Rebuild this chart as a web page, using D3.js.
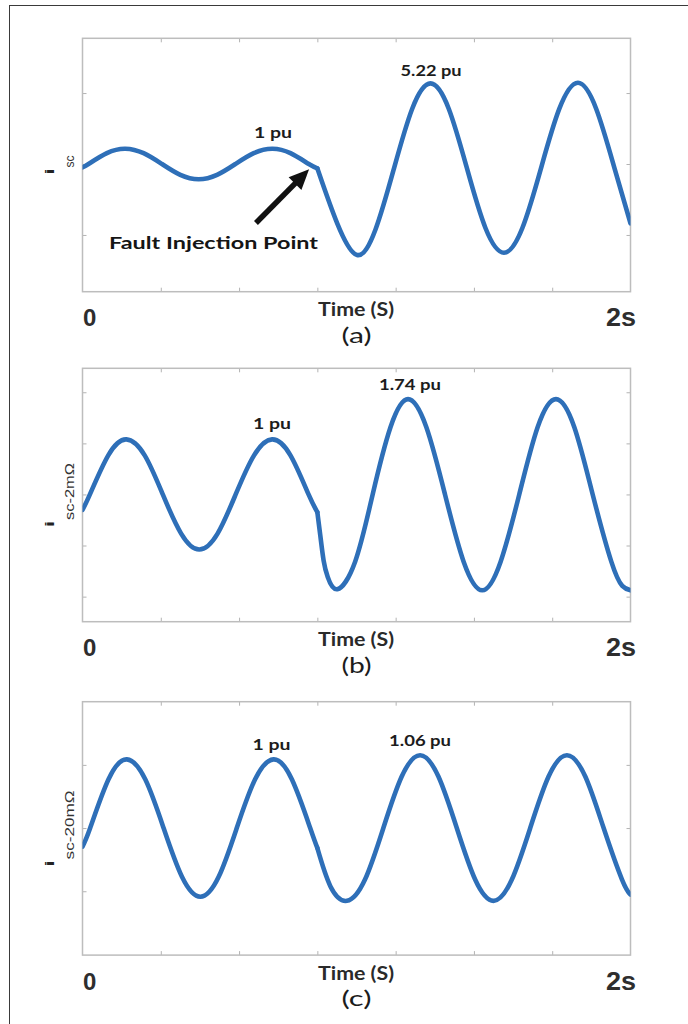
<!DOCTYPE html>
<html><head><meta charset="utf-8">
<script src="https://cdn.jsdelivr.net/npm/d3@7"></script>
<style>body{margin:0;background:#fff}svg{display:block}</style>
</head><body>
<svg id="chart" width="688" height="1024"></svg>
<script>
// ---------- data ----------
const timeDomain = [0, 2];
const xTicks = [0.2857, 0.5714, 0.8571, 1.1429, 1.4286, 1.7143];
const xEndLabels = ["0", "2s"];
const xAxisTitle = "Time (S)";
const panelNames = ["(a)", "(b)", "(c)"];
const yMain = "i";
const ySubs = ["sc", "sc-2mΩ", "sc-20mΩ"];

const yDomainA = [-8.35, 8.22], yTicksA = [-4.64, 0, 4.64];
const yDomainB = [-2.31, 2.29], yTicksB = [-1.855, -0.927, 0, 0.927, 1.855];
const yDomainC = [-1.85, 1.84], yTicksC = [-0.92, 0, 0.92];

// panel (a): i_sc (pu), before and after fault
const aPre = [[0,-0.22],[0.022,0],[0.089,0.71],[0.156,1.0],[0.223,0.71],[0.290,0],[0.357,-0.71],[0.424,-1.0],[0.491,-0.71],[0.558,0],[0.625,0.71],[0.692,1.0],[0.759,0.71],[0.826,0],[0.857,-0.28]];
const aPost = [[0.857,-0.28],[0.93,-3.9],[1.002,-5.95],[1.069,-4.3],[1.136,-0.34],[1.203,3.6],[1.270,5.27],[1.337,3.6],[1.404,-0.34],[1.471,-4.2],[1.538,-5.8],[1.605,-4.2],[1.673,-0.3],[1.740,3.6],[1.808,5.31],[1.875,3.6],[1.942,-0.3],[2.0,-3.88]];
// panel (b): i_sc-2mΩ
const bPre = [[0,-0.28],[0.027,0],[0.094,0.71],[0.160,1.0],[0.227,0.71],[0.293,0],[0.360,-0.71],[0.426,-1.0],[0.493,-0.71],[0.559,0],[0.626,0.71],[0.692,1.0],[0.759,0.71],[0.825,0],[0.857,-0.32]];
const bPost = [[0.857,-0.32],[0.868,-0.75],[0.880,-1.2],[0.895,-1.5],[0.930,-1.72],[0.995,-1.22],[1.059,0],[1.124,1.22],[1.188,1.73],[1.255,1.22],[1.323,0],[1.391,-1.22],[1.459,-1.74],[1.526,-1.22],[1.594,0],[1.661,1.22],[1.728,1.73],[1.795,1.22],[1.862,0],[1.930,-1.22],[1.97,-1.66],[2.0,-1.74]];
// panel (c): i_sc-20mΩ
const cPre = [[0,-0.27],[0.028,0],[0.095,0.71],[0.162,1.0],[0.229,0.71],[0.296,0],[0.363,-0.71],[0.430,-1.0],[0.497,-0.71],[0.563,0],[0.630,0.71],[0.697,1.0],[0.764,0.71],[0.831,0],[0.857,-0.29]];
const cPost = [[0.857,-0.29],[0.905,-0.85],[0.965,-1.06],[1.031,-0.75],[1.098,0],[1.165,0.75],[1.232,1.06],[1.299,0.75],[1.366,0],[1.433,-0.75],[1.500,-1.06],[1.567,-0.75],[1.634,0],[1.701,0.75],[1.768,1.06],[1.835,0.75],[1.902,0],[1.969,-0.75],[2.0,-0.97]];

// peak annotations: [text, t, v]
const aNotes = [["1 pu", 0.695, 1.70], ["5.22 pu", 1.272, 5.75]];
const bNotes = [["1 pu", 0.692, 1.19], ["1.74 pu", 1.195, 1.90]];
const cNotes = [["1 pu", 0.69, 1.135], ["1.06 pu", 1.232, 1.19]];
const faultText = "Fault Injection Point";
const faultTextPos = [0.097, -5.56];
const arrowTail = [0.633, -3.86];
const arrowTip = [0.827, -0.35];

// ---------- layout ----------
const L = 82.5, R = 630.5, H = 253.4;
const tops = [38.3, 368.3, 701.7];
const subLens = [12, 57, 69];
const noteWidths = {"1 pu": 38, "5.22 pu": 61, "1.74 pu": 62, "1.06 pu": 62};
const blue = "#2e6fb8";
const FONT = "Lato, 'Open Sans', sans-serif";
const HFONT = "'Liberation Sans', Arial, sans-serif";

const svg = d3.select("#chart");
svg.append("rect").attr("width", 688).attr("height", 1024).attr("fill", "#fff");
svg.append("rect").attr("x", 9.5).attr("y", 5.5).attr("width", 700).attr("height", 1040)
  .attr("fill", "none").attr("stroke", "#3a3a3a").attr("stroke-width", 1);

const panels = [
  {pre: aPre, post: aPost, yDomain: yDomainA, yTicks: yTicksA, notes: aNotes},
  {pre: bPre, post: bPost, yDomain: yDomainB, yTicks: yTicksB, notes: bNotes},
  {pre: cPre, post: cPost, yDomain: yDomainC, yTicks: yTicksC, notes: cNotes}
];

const tickStyle = sel => {
  sel.select(".domain").remove();
  sel.selectAll("text").remove();
  sel.selectAll("line").attr("stroke", "#b3b3b3").attr("stroke-width", 1);
};

panels.forEach((p, i) => {
  const top = tops[i], bottom = top + H;
  const x = d3.scaleLinear().domain(timeDomain).range([L, R]);
  const y = d3.scaleLinear().domain(p.yDomain).range([bottom, top]);
  const g = svg.append("g");

  g.append("g").attr("transform", `translate(0,${bottom})`)
    .call(d3.axisBottom(x).tickValues(xTicks).tickSize(-4).tickFormat("")).call(tickStyle);
  g.append("g").attr("transform", `translate(0,${top})`)
    .call(d3.axisTop(x).tickValues(xTicks).tickSize(-4).tickFormat("")).call(tickStyle);
  g.append("g").attr("transform", `translate(${L},0)`)
    .call(d3.axisLeft(y).tickValues(p.yTicks).tickSize(-4).tickFormat("")).call(tickStyle);
  g.append("g").attr("transform", `translate(${R},0)`)
    .call(d3.axisRight(y).tickValues(p.yTicks).tickSize(-4).tickFormat("")).call(tickStyle);

  g.append("rect").attr("x", L).attr("y", top).attr("width", R - L).attr("height", H)
    .attr("fill", "none").attr("stroke", "#bdbdbd").attr("stroke-width", 1.5);

  const clipId = "clip" + i;
  svg.append("clipPath").attr("id", clipId).append("rect")
    .attr("x", L).attr("y", top - 10).attr("width", R - L).attr("height", H + 20);

  const line = d3.line().x(d => x(d[0])).y(d => y(d[1])).curve(d3.curveNatural);
  [p.pre, p.post].forEach(seg => {
    g.append("path").attr("d", line(seg)).attr("clip-path", `url(#${clipId})`)
      .attr("fill", "none").attr("stroke", blue).attr("stroke-width", 4.6)
      .attr("stroke-linecap", "round").attr("stroke-linejoin", "round");
  });

  // peak notes
  p.notes.forEach(n => {
    g.append("text").attr("x", x(n[1])).attr("y", y(n[2])).attr("text-anchor", "middle")
      .attr("font-family", FONT).attr("font-weight", 700).attr("font-size", 15)
      .attr("fill", "#1c1c1c")
      .attr("textLength", noteWidths[n[0]]).attr("lengthAdjust", "spacingAndGlyphs")
      .text(n[0]);
  });

  // x end labels
  g.append("text").attr("x", x(timeDomain[0]) + 0.5).attr("y", bottom + 34.5)
    .attr("font-family", HFONT).attr("font-weight", 700).attr("font-size", 24)
    .attr("fill", "#2e2e2e").text(xEndLabels[0]);
  g.append("text").attr("x", x(timeDomain[1]) + 5.5).attr("y", bottom + 34.5)
    .attr("text-anchor", "end")
    .attr("font-family", HFONT).attr("font-weight", 700).attr("font-size", 25)
    .attr("fill", "#2e2e2e").attr("textLength", 30).attr("lengthAdjust", "spacingAndGlyphs")
    .text(xEndLabels[1]);
  g.append("text").attr("x", 356).attr("y", bottom + 24.5).attr("text-anchor", "middle")
    .attr("font-family", FONT).attr("font-weight", 700).attr("font-size", 18)
    .attr("fill", "#2a2a2a").attr("textLength", 76).attr("lengthAdjust", "spacingAndGlyphs")
    .text(xAxisTitle);
  g.append("text").attr("x", 356.5).attr("y", bottom + 51).attr("text-anchor", "middle")
    .attr("font-family", FONT).attr("font-weight", 400).attr("font-size", 22)
    .attr("fill", "#1c1c1c").attr("textLength", 30).attr("lengthAdjust", "spacingAndGlyphs")
    .text(panelNames[i]);

  // y label i_sub
  const c = top + H / 2;
  const total = 6 + 1 + subLens[i];
  const start = c + total / 2;
  g.append("text").attr("transform", `translate(54,${start}) rotate(-90)`)
    .attr("font-family", HFONT).attr("font-weight", 700).attr("font-size", 13)
    .attr("fill", "#222").attr("textLength", 6).attr("lengthAdjust", "spacingAndGlyphs")
    .text(yMain);
  g.append("text").attr("transform", `translate(73.5,${start - 7}) rotate(-90)`)
    .attr("font-family", HFONT).attr("font-size", 12.5)
    .attr("fill", "#333").attr("textLength", subLens[i]).attr("lengthAdjust", "spacingAndGlyphs")
    .text(ySubs[i]);

  if (i === 0) {
    g.append("text").attr("x", x(faultTextPos[0])).attr("y", y(faultTextPos[1]))
      .attr("font-family", FONT).attr("font-weight", 700).attr("font-size", 17)
      .attr("fill", "#151515").attr("textLength", 209).attr("lengthAdjust", "spacingAndGlyphs")
      .text(faultText);
    const tx = x(arrowTail[0]), ty = y(arrowTail[1]);
    const hx = x(arrowTip[0]), hy = y(arrowTip[1]);
    const dx = hx - tx, dy = hy - ty, len = Math.hypot(dx, dy);
    const ux = dx / len, uy = dy / len;
    const headLen = 20, headW = 9;
    const bx = hx - ux * headLen, by = hy - uy * headLen;
    g.append("line").attr("x1", tx).attr("y1", ty).attr("x2", bx + ux * 2).attr("y2", by + uy * 2)
      .attr("stroke", "#111").attr("stroke-width", 5.5);
    g.append("path")
      .attr("d", `M${hx},${hy}L${bx - uy * headW},${by + ux * headW}L${bx + uy * headW},${by - ux * headW}Z`)
      .attr("fill", "#111");
  }
});
</script>
</body></html>
